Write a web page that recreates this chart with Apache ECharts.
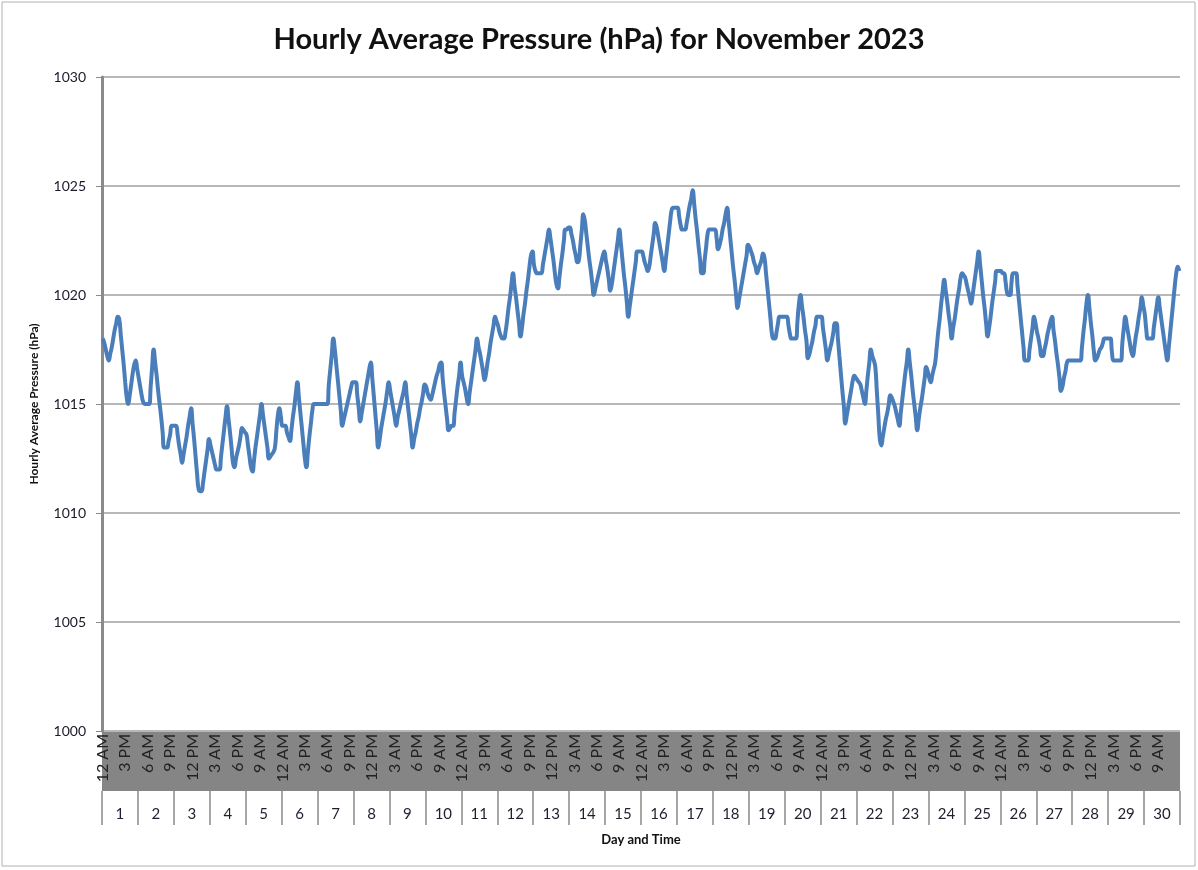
<!DOCTYPE html>
<html>
<head>
<meta charset="utf-8">
<title>Hourly Average Pressure (hPa) for November 2023</title>
<script src="https://cdn.jsdelivr.net/npm/echarts@6/dist/echarts.min.js"></script>
<style>
  html, body { margin: 0; padding: 0; background: #fff; }
  #chart { width: 1198px; height: 870px; }
</style>
</head>
<body>
<div id="chart"></div>
<script>
const days = ["1","2","3","4","5","6","7","8","9","10","11","12","13","14","15",
  "16","17","18","19","20","21","22","23","24","25","26","27","28","29","30"];

const hourNames = ["12 AM","1 AM","2 AM","3 AM","4 AM","5 AM","6 AM","7 AM","8 AM","9 AM","10 AM","11 AM",
  "12 PM","1 PM","2 PM","3 PM","4 PM","5 PM","6 PM","7 PM","8 PM","9 PM","10 PM","11 PM"];

// one row per day, 24 hourly readings (hPa)
const pressure = [
  1018,1017.8,1017.5,1017.2,1017,1017.3,1017.6,1018,1018.4,1018.7,1019,1018.9,1018.2,1017.5,1016.8,1016,1015.3,1015,1015.4,1015.9,1016.4,1016.8,1017,1016.6,
  1016.2,1015.8,1015.4,1015.1,1015,1015,1015,1015,1015.8,1016.7,1017.5,1016.9,1016.3,1015.6,1015,1014.4,1013.7,1013,1013,1013,1013.3,1013.6,1014,1014,
  1014,1014,1013.6,1013.1,1012.7,1012.3,1012.7,1013.1,1013.5,1014,1014.4,1014.8,1014.1,1013.4,1012.6,1011.8,1011.1,1011,1011,1011.4,1011.9,1012.4,1012.9,1013.4,
  1013.1,1012.8,1012.5,1012.2,1012,1012,1012,1012.6,1013.2,1013.8,1014.4,1014.9,1014.3,1013.7,1013,1012.3,1012.1,1012.5,1012.8,1013.1,1013.5,1013.9,1013.8,1013.7,
  1013.6,1013.1,1012.6,1012.1,1011.9,1012.4,1013,1013.5,1014,1014.5,1015,1014.5,1014,1013.5,1013,1012.5,1012.6,1012.7,1012.8,1013,1013.8,1014.5,1014.8,1014.4,
  1014,1014,1014,1013.7,1013.5,1013.3,1013.8,1014.4,1014.9,1015.5,1016,1015.3,1014.6,1013.9,1013.2,1012.5,1012.1,1012.8,1013.5,1014.1,1014.7,1015,1015,1015,
  1015,1015,1015,1015,1015,1015,1015,1015.9,1016.6,1017.3,1018,1017.5,1016.8,1016.1,1015.4,1014.7,1014,1014.3,1014.6,1014.9,1015.2,1015.5,1015.8,1016,
  1016,1016,1015.4,1014.8,1014.2,1014.6,1015,1015.4,1015.8,1016.2,1016.6,1016.9,1016.2,1015.4,1014.6,1013.8,1013,1013.4,1013.9,1014.3,1014.7,1015.1,1015.6,1016,
  1015.6,1015.2,1014.8,1014.4,1014,1014.4,1014.7,1015,1015.3,1015.6,1016,1015.4,1014.8,1014.2,1013.6,1013,1013.4,1013.7,1014.1,1014.4,1014.8,1015.1,1015.5,1015.9,
  1015.8,1015.5,1015.3,1015.2,1015.4,1015.7,1016,1016.3,1016.5,1016.8,1016.9,1016.2,1015.5,1014.9,1014.3,1013.8,1013.9,1014,1014,1014.6,1015.2,1015.8,1016.3,1016.9,
  1016.3,1016,1015.7,1015.3,1015,1015.5,1016,1016.5,1017,1017.5,1018,1017.6,1017.3,1016.9,1016.5,1016.1,1016.4,1016.9,1017.3,1017.8,1018.2,1018.6,1019,1018.8,
  1018.6,1018.3,1018.1,1018,1018,1018.3,1018.8,1019.4,1019.9,1020.5,1021,1020.4,1019.9,1019.3,1018.7,1018.1,1018.5,1019.1,1019.6,1020.2,1020.7,1021.3,1021.8,1022,
  1021.4,1021.1,1021,1021,1021,1021,1021.4,1021.8,1022.2,1022.6,1023,1022.6,1022.1,1021.6,1021,1020.5,1020.3,1020.8,1021.4,1021.9,1022.5,1023,1023,1023.1,
  1023.1,1022.8,1022.5,1022.1,1021.8,1021.5,1021.6,1022.3,1023,1023.7,1023.4,1022.8,1022.2,1021.6,1021.1,1020.5,1020,1020.3,1020.6,1020.9,1021.2,1021.5,1021.8,1022,
  1021.6,1021.2,1020.7,1020.2,1020.5,1021,1021.5,1022,1022.5,1023,1022.4,1021.7,1021,1020.4,1019.7,1019,1019.5,1020,1020.5,1021,1021.5,1022,1022,1022,
  1022,1021.8,1021.5,1021.3,1021.1,1021.3,1021.8,1022.3,1022.8,1023.3,1023.1,1022.7,1022.3,1021.9,1021.5,1021.1,1021.6,1022.2,1022.8,1023.4,1023.9,1024,1024,1024,
  1024,1023.6,1023.2,1023,1023,1023,1023.3,1023.7,1024.1,1024.4,1024.8,1024.2,1023.5,1022.9,1022.2,1021.6,1021,1021,1021.6,1022.2,1022.8,1023,1023,1023,
  1023,1023,1022.6,1022.1,1022.3,1022.6,1023,1023.3,1023.7,1024,1023.4,1022.7,1022,1021.3,1020.7,1020,1019.4,1019.8,1020.2,1020.6,1021,1021.4,1021.8,1022.3,
  1022.2,1022,1021.8,1021.5,1021.3,1021,1021.2,1021.4,1021.6,1021.9,1021.7,1021,1020.3,1019.6,1018.9,1018.2,1018,1018,1018.3,1018.7,1019,1019,1019,1019,
  1019,1019,1018.6,1018.2,1018,1018,1018,1018,1018.8,1019.6,1020,1019.5,1019,1018.4,1017.9,1017.1,1017.3,1017.6,1017.9,1018.3,1018.6,1019,1019,1019,
  1019,1018.5,1018,1017.5,1017,1017.3,1017.6,1017.9,1018.3,1018.7,1018.7,1018,1017.2,1016.4,1015.6,1014.9,1014.1,1014.5,1014.9,1015.3,1015.7,1016.1,1016.3,1016.2,
  1016.1,1016,1015.9,1015.6,1015.3,1015,1015.6,1016.3,1016.9,1017.5,1017.2,1017,1016.7,1015.6,1014.5,1013.4,1013.1,1013.5,1013.9,1014.3,1014.6,1015,1015.4,1015.3,
  1015.1,1014.9,1014.6,1014.3,1014,1014.6,1015.2,1015.8,1016.4,1016.9,1017.5,1016.9,1016.3,1015.6,1015,1014.4,1013.8,1014.3,1014.8,1015.2,1015.7,1016.2,1016.7,1016.5,
  1016.2,1016,1016.3,1016.6,1016.9,1017.6,1018.3,1018.9,1019.6,1020.2,1020.7,1020.2,1019.7,1019.1,1018.6,1018,1018.5,1018.9,1019.4,1019.9,1020.3,1020.8,1021,1020.9,
  1020.8,1020.5,1020.2,1019.9,1019.6,1020,1020.5,1021,1021.5,1022,1021.4,1020.7,1020,1019.4,1018.7,1018.1,1018.5,1019,1019.6,1020.1,1020.6,1021.1,1021.1,1021.1,
  1021.1,1021,1021,1020.6,1020.1,1020,1020,1020.6,1021,1021,1021,1020.4,1019.7,1019,1018.3,1017.6,1017,1017,1017,1017.5,1018,1018.5,1019,1018.7,
  1018.3,1018,1017.6,1017.2,1017.2,1017.5,1017.8,1018.2,1018.5,1018.8,1019,1018.4,1017.9,1017.3,1016.8,1016.2,1015.6,1015.8,1016.2,1016.5,1016.9,1017,1017,1017,
  1017,1017,1017,1017,1017,1017,1017.6,1018.3,1018.9,1019.6,1020,1019.4,1018.7,1018.1,1017.4,1017,1017.1,1017.3,1017.5,1017.6,1017.8,1018,1018,1018,
  1018,1018,1017.4,1017,1017,1017,1017,1017,1017,1017.8,1018.5,1019,1018.6,1018.2,1017.8,1017.4,1017.2,1017.6,1018.1,1018.5,1019,1019.4,1019.9,1019.5,
  1019.1,1018.4,1018,1018,1018,1018,1018.5,1019,1019.5,1019.9,1019.4,1018.9,1018.4,1017.9,1017.4,1017,1017.6,1018.3,1019,1019.7,1020.4,1021,1021.3,1021.1
];

const yTicks = { min: 1000, max: 1030, step: 5 };

// category keys "day|hour"; only the hour part is shown
const hourCategories = [];
days.forEach(d => hourNames.forEach(h => hourCategories.push(d + "|" + h)));

const font = 'Lato, "Open Sans", "Liberation Sans", sans-serif';
const chart = echarts.init(document.getElementById("chart"), null, { renderer: "canvas" });

chart.setOption({
  animation: false,
  backgroundColor: "#ffffff",
  title: {
    text: "Hourly Average Pressure (hPa) for November 2023",
    left: "center",
    top: 20,
    textStyle: { fontFamily: font, fontSize: 29, fontWeight: "bold", color: "#111" }
  },
  grid: { left: 102, right: 18, top: 77, bottom: 139 },
  graphic: [
    {
      type: "rect", z: -1, silent: true,
      shape: { x: 2, y: 2, width: 1193, height: 864 },
      style: { fill: null, stroke: "#b0b0b0", lineWidth: 1 }
    },
    {
      type: "rect", z: -1, silent: true,
      shape: { x: 102, y: 731, width: 1078, height: 60 },
      style: { fill: "#858585" }
    }
  ],
  xAxis: [
    {
      type: "category",
      data: hourCategories,
      boundaryGap: true,
      axisLine: { show: false },
      axisTick: { show: false },
      splitLine: { show: false },
      axisLabel: {
        interval: 14,
        rotate: 90,
        margin: 3,
        fontFamily: font,
        fontSize: 16,
        color: "#222",
        formatter: v => v.split("|")[1]
      }
    },
    {
      type: "category",
      data: days,
      position: "bottom",
      offset: 60,
      boundaryGap: true,
      axisLine: { show: false },
      axisTick: { show: true, interval: 0, length: 34, lineStyle: { color: "#a6a6a6", width: 2 } },
      axisLabel: { interval: 0, margin: 16, fontFamily: font, fontSize: 15, color: "#1f1f2f" },
      name: "Day and Time",
      nameLocation: "middle",
      nameGap: 42,
      nameTextStyle: { fontFamily: font, fontSize: 13, fontWeight: "bold", color: "#111" }
    }
  ],
  yAxis: {
    type: "value",
    min: yTicks.min,
    max: yTicks.max,
    interval: yTicks.step,
    axisLine: { show: true, lineStyle: { color: "#8a8a8a", width: 3 } },
    axisTick: { show: true, length: 6, lineStyle: { color: "#8a8a8a", width: 1 } },
    splitLine: { show: true, lineStyle: { color: "#b8b8b8", width: 2 } },
    axisLabel: { margin: 16, fontFamily: font, fontSize: 14, color: "#1a1a2a", formatter: v => String(v) },
    name: "Hourly Average Pressure (hPa)",
    nameLocation: "middle",
    nameRotate: 90,
    nameGap: 62,
    nameTextStyle: { fontFamily: font, fontSize: 12, fontWeight: "bold", color: "#111" }
  },
  series: [
    {
      type: "line",
      xAxisIndex: 0,
      data: pressure,
      showSymbol: false,
      smooth: 0.5,
      lineStyle: { color: "#4a7ebb", width: 4 },
      itemStyle: { color: "#4a7ebb" }
    }
  ]
});

window.addEventListener("resize", () => chart.resize());
</script>
</body>
</html>
